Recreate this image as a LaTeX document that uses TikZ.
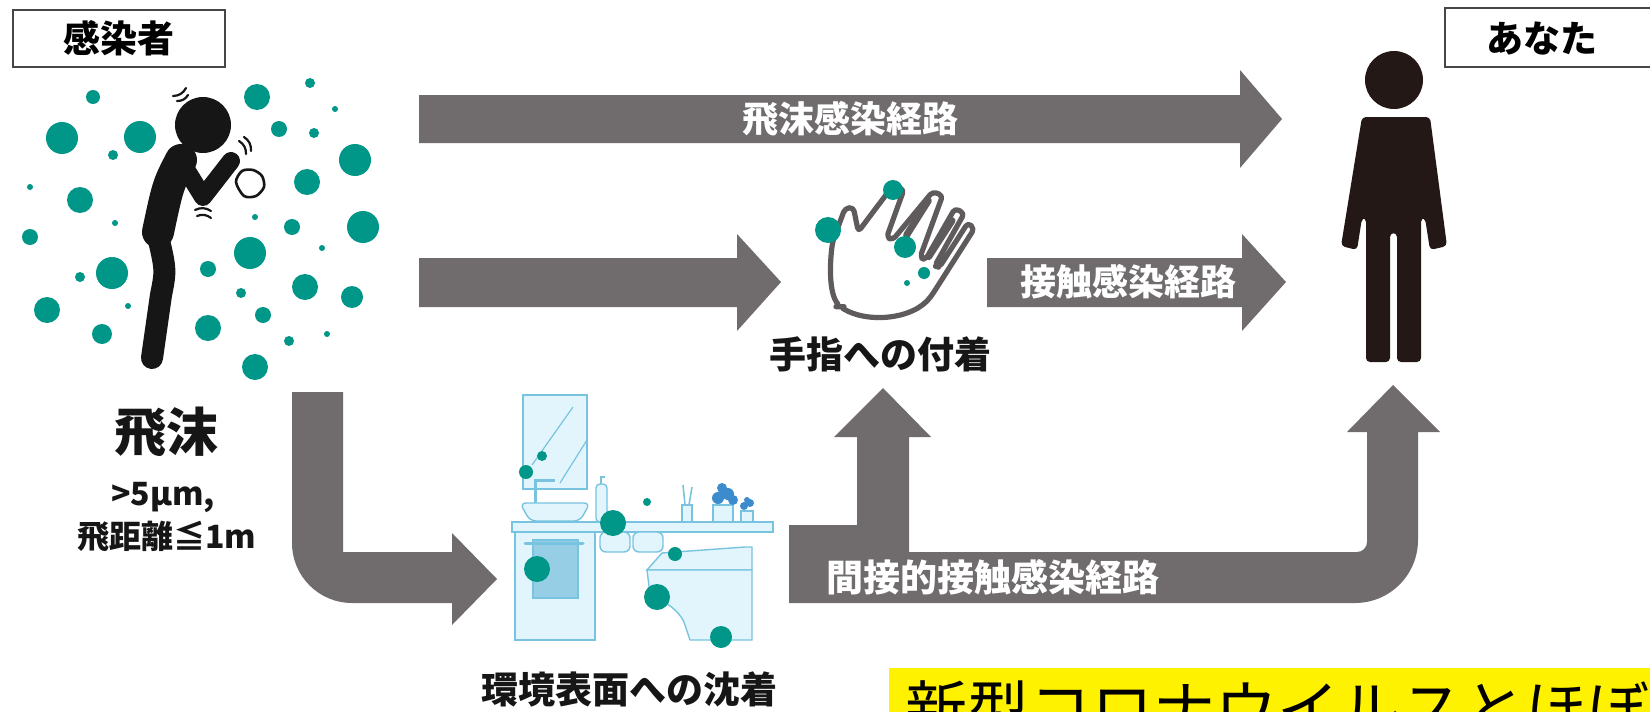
\documentclass[tikz,border=0pt]{standalone}
\usepackage{fontspec}
\setmainfont{Noto Sans CJK JP}
\definecolor{arrgray}{RGB}{112,108,109}
\definecolor{dropteal}{RGB}{0,150,136}
\definecolor{inkblack}{RGB}{22,22,22}
\definecolor{youblack}{RGB}{35,24,21}
\definecolor{envfill}{RGB}{226,245,252}
\definecolor{envline}{RGB}{120,196,224}
\definecolor{towelblue}{RGB}{150,206,230}
\definecolor{leafblue}{RGB}{60,140,205}
\definecolor{boxline}{RGB}{70,70,70}
\definecolor{handline}{RGB}{95,90,92}
\tikzset{
  namebox/.style={draw=boxline, line width=1pt, fill=white, inner sep=0pt,
    font=\bfseries\fontsize{18.5}{20}\selectfont},
  blockarr/.style={fill=arrgray},
  drop/.style={fill=dropteal},
  env/.style={draw=envline, fill=envfill, line width=0.7pt},
  arrlbl/.style={text=white, inner sep=0pt, font=\bfseries\fontsize{18}{20}\selectfont},
  lbl/.style={text=inkblack, inner sep=0pt, font=\bfseries\fontsize{18.5}{20}\selectfont},
  stick/.style={inkblack, line cap=round, line join=round},
}
\begin{document}
\begin{tikzpicture}[x=0.5pt, y=-0.5pt]
\useasboundingbox (0,0) rectangle (1650,712);
\fill[white] (0,0) rectangle (1650,712);

\node[namebox, minimum width=106pt, minimum height=28.5pt] (box_src) at (119,38.5) {感染者};
\node[namebox, minimum width=107.5pt, minimum height=29.5pt, text depth=0pt] (box_you) at (1552,37.5) {\hspace*{-10pt}あなた};

\foreach \x/\y/\r in {93/97/7, 62/138/16, 140/137/16, 113/155/5, 30/187/3, 80/200/13,
  115/223/3, 30/237/8, 112/273/16, 80/277/5, 47/310/13, 128/306/3, 102/334/10,
  257/97/13, 310/83/5, 335/109/3, 279/129/8, 314/133/5, 355/160/16, 307/182/13,
  255/217/3, 292/227/8, 363/227/16, 322/248/3, 250/253/16, 208/269/8, 305/287/13,
  241/293/5, 352/297/11, 263/315/8, 208/328/13, 289/341/5, 327/334/3, 255/367/13}
  \fill[drop] (\x,\y) circle (\r);

\fill[inkblack] (203,125) circle (28);
\draw[stick, line width=16pt] (181,160) .. controls (168,185) .. (158,232);
\draw[stick, line width=11pt] (157,232) .. controls (166,270) .. (161,295) -- (152,358);
\draw[stick, line width=9pt] (184,166) -- (203,197) -- (231,161);
\draw[stick, line width=1.3pt] plot[smooth cycle] coordinates {(236,182) (242,171) (253,170) (262,176) (264,187) (256,196) (244,196)};
\draw[stick, line width=1.1pt] (173,96) to[bend right] (186,88);
\draw[stick, line width=1.1pt] (177,101) to[bend right] (188,95);
\draw[stick, line width=1.1pt] (239,141) to[bend left] (246,154);
\draw[stick, line width=1.1pt] (244,137) to[bend left] (251,151);
\draw[stick, line width=1.1pt] (195,210) to[bend left] (211,211);
\draw[stick, line width=1.1pt] (197,216) to[bend left] (211,218);

\node[lbl, font=\bfseries\fontsize{26}{28}\selectfont] (lbl_drop) at (166,432) {飛沫};
\node[lbl, font=\bfseries\fontsize{16}{18}\selectfont] (lbl_size) at (163,498) {>5μm,};
\node[lbl, font=\bfseries\fontsize{16}{18}\selectfont] (lbl_range) at (167,537) {飛距離≦1m};

\fill[blockarr] (419,95) -- (1240,95) -- (1240,70) -- (1282,119) -- (1240,168) -- (1240,143) -- (419,143) -- cycle;
\node[arrlbl] (lbl_route1) at (850,119) {飛沫感染経路};

\fill[blockarr] (419,258) -- (737,258) -- (737,234) -- (781,282) -- (737,331) -- (737,307) -- (419,307) -- cycle;

\begin{scope}[shift={(740,160)}, scale=0.3333]
\draw[handline, line width=2.6pt, line join=round, line cap=round, rounded corners=2pt]
  (300,440) .. controls (268,400) and (268,320) .. (278,245)
  -- (315,145) -- (340,142) -- (355,215)
  -- (458,78) -- (492,88) -- (440,232) -- (458,240)
  -- (578,95) -- (608,106) -- (540,292) -- (556,300)
  -- (645,145) -- (673,160) -- (584,318) -- (598,322)
  -- (684,188) -- (703,206)
  -- (578,402) .. controls (520,480) and (380,490) .. cycle;
\draw[handline, line width=3.5pt, line cap=round] (500,225) -- (565,122);
\draw[handline, line width=3.5pt, line cap=round] (566,290) -- (636,182);
\end{scope}
\foreach \x/\y/\r in {828/230/13, 893/190/10, 905/247/11, 924/273/6, 907/283/3}
  \fill[drop] (\x,\y) circle (\r);
\node[lbl] (lbl_hand) at (880,354) {手指への付着};

\fill[blockarr] (987,258) -- (1242,258) -- (1242,234) -- (1286,282) -- (1242,331) -- (1242,307) -- (987,307) -- cycle;
\node[arrlbl] (lbl_route2) at (1128,282) {接触感染経路};

\fill[youblack] (1394,80) circle (29);
\fill[youblack, rounded corners=2pt] (1362,117) -- (1430,117) -- (1447,246) -- (1430,250) -- (1425,218)
  -- (1421,218) -- (1421,362) -- (1397,362) -- (1397,233) -- (1390,233) -- (1390,362) -- (1366,362)
  -- (1366,218) -- (1362,218) -- (1357,250) -- (1341,246) -- cycle;

\fill[blockarr] (292,392) -- (343,392) -- (343,552) -- (452,552) -- (452,533) -- (497,579) -- (452,625)
  -- (452,603) -- (352,603) arc[start angle=90, end angle=180, radius=60] -- cycle;

\filldraw[env] (523,395) rectangle (587,489);
\draw[envline, line width=0.6pt] (532,465) -- (573,407);
\draw[envline, line width=0.6pt] (560,483) -- (587,440);
\draw[envline, line width=1.5pt] (535,503) -- (535,480) -- (555,480);
\filldraw[env, rounded corners=3pt] (520,503) -- (590,503) -- (580,521) -- (530,521) -- cycle;
\filldraw[env] (512,522) rectangle (773,532);
\filldraw[env] (515,532) rectangle (595,640);
\filldraw[env, fill=towelblue] (533,540) rectangle (578,598);
\draw[envline, line width=1.5pt, line cap=round] (525,543) -- (583,543);
\filldraw[env, rounded corners=2pt] (596,484) rectangle (607,522);
\draw[envline, line width=1pt] (601,484) -- (601,477) -- (605,477);
\filldraw[env, rounded corners=3pt] (600,532) rectangle (630,552);
\filldraw[env, rounded corners=3pt] (633,532) rectangle (663,552);
\filldraw[env] (647,570) -- (662,553) -- (745,547) -- (752,547) -- (752,570) -- cycle;
\filldraw[env] (647,570) -- (752,570) -- (752,640) -- (690,640) -- (684,622) .. controls (676,606) and (660,600) .. (650,594) -- cycle;
\filldraw[env] (682,505) rectangle (692,522);
\draw[envline, line width=0.8pt] (685,505) -- (683,485);
\draw[envline, line width=0.8pt] (689,505) -- (692,487);
\filldraw[env] (713,505) rectangle (733,522);
\fill[leafblue] (718,498) circle (6) (728,494) circle (6) (722,488) circle (5) (733,500) circle (5);
\filldraw[env] (741,511) rectangle (753,522);
\fill[leafblue] (744,506) circle (4) (750,503) circle (4) (747,500) circle (3);
\foreach \x/\y/\r in {542/456/5, 526/472/7, 647/502/4, 613/523/13, 537/569/13, 675/554/7, 657/597/13, 721/637/11}
  \fill[drop] (\x,\y) circle (\r);
\node[lbl] (lbl_env) at (629,689) {環境表面への沈着};

\fill[blockarr] (789,525) -- (857,525) -- (857,437) -- (834,437) -- (883,388) -- (931,437) -- (909,437)
  -- (909,552) -- (1357,552) arc[start angle=90, end angle=0, radius=10]
  -- (1367,432) -- (1347,432) -- (1393,385) -- (1440,432) -- (1418,432)
  -- (1418,540) arc[start angle=0, end angle=90, radius=63] -- (789,603) -- cycle;
\node[arrlbl, anchor=west, font=\bfseries\fontsize{18.5}{20}\selectfont] (lbl_route3) at (826,577) {間接的接触感染経路};

\fill[yellow] (889,668) rectangle (1650,712);
\node[inner sep=0pt, anchor=base west, font=\fontsize{31}{33}\selectfont] (lbl_note) at (905,732) {新型コロナウイルスとほぼ};
\end{tikzpicture}
\end{document}
